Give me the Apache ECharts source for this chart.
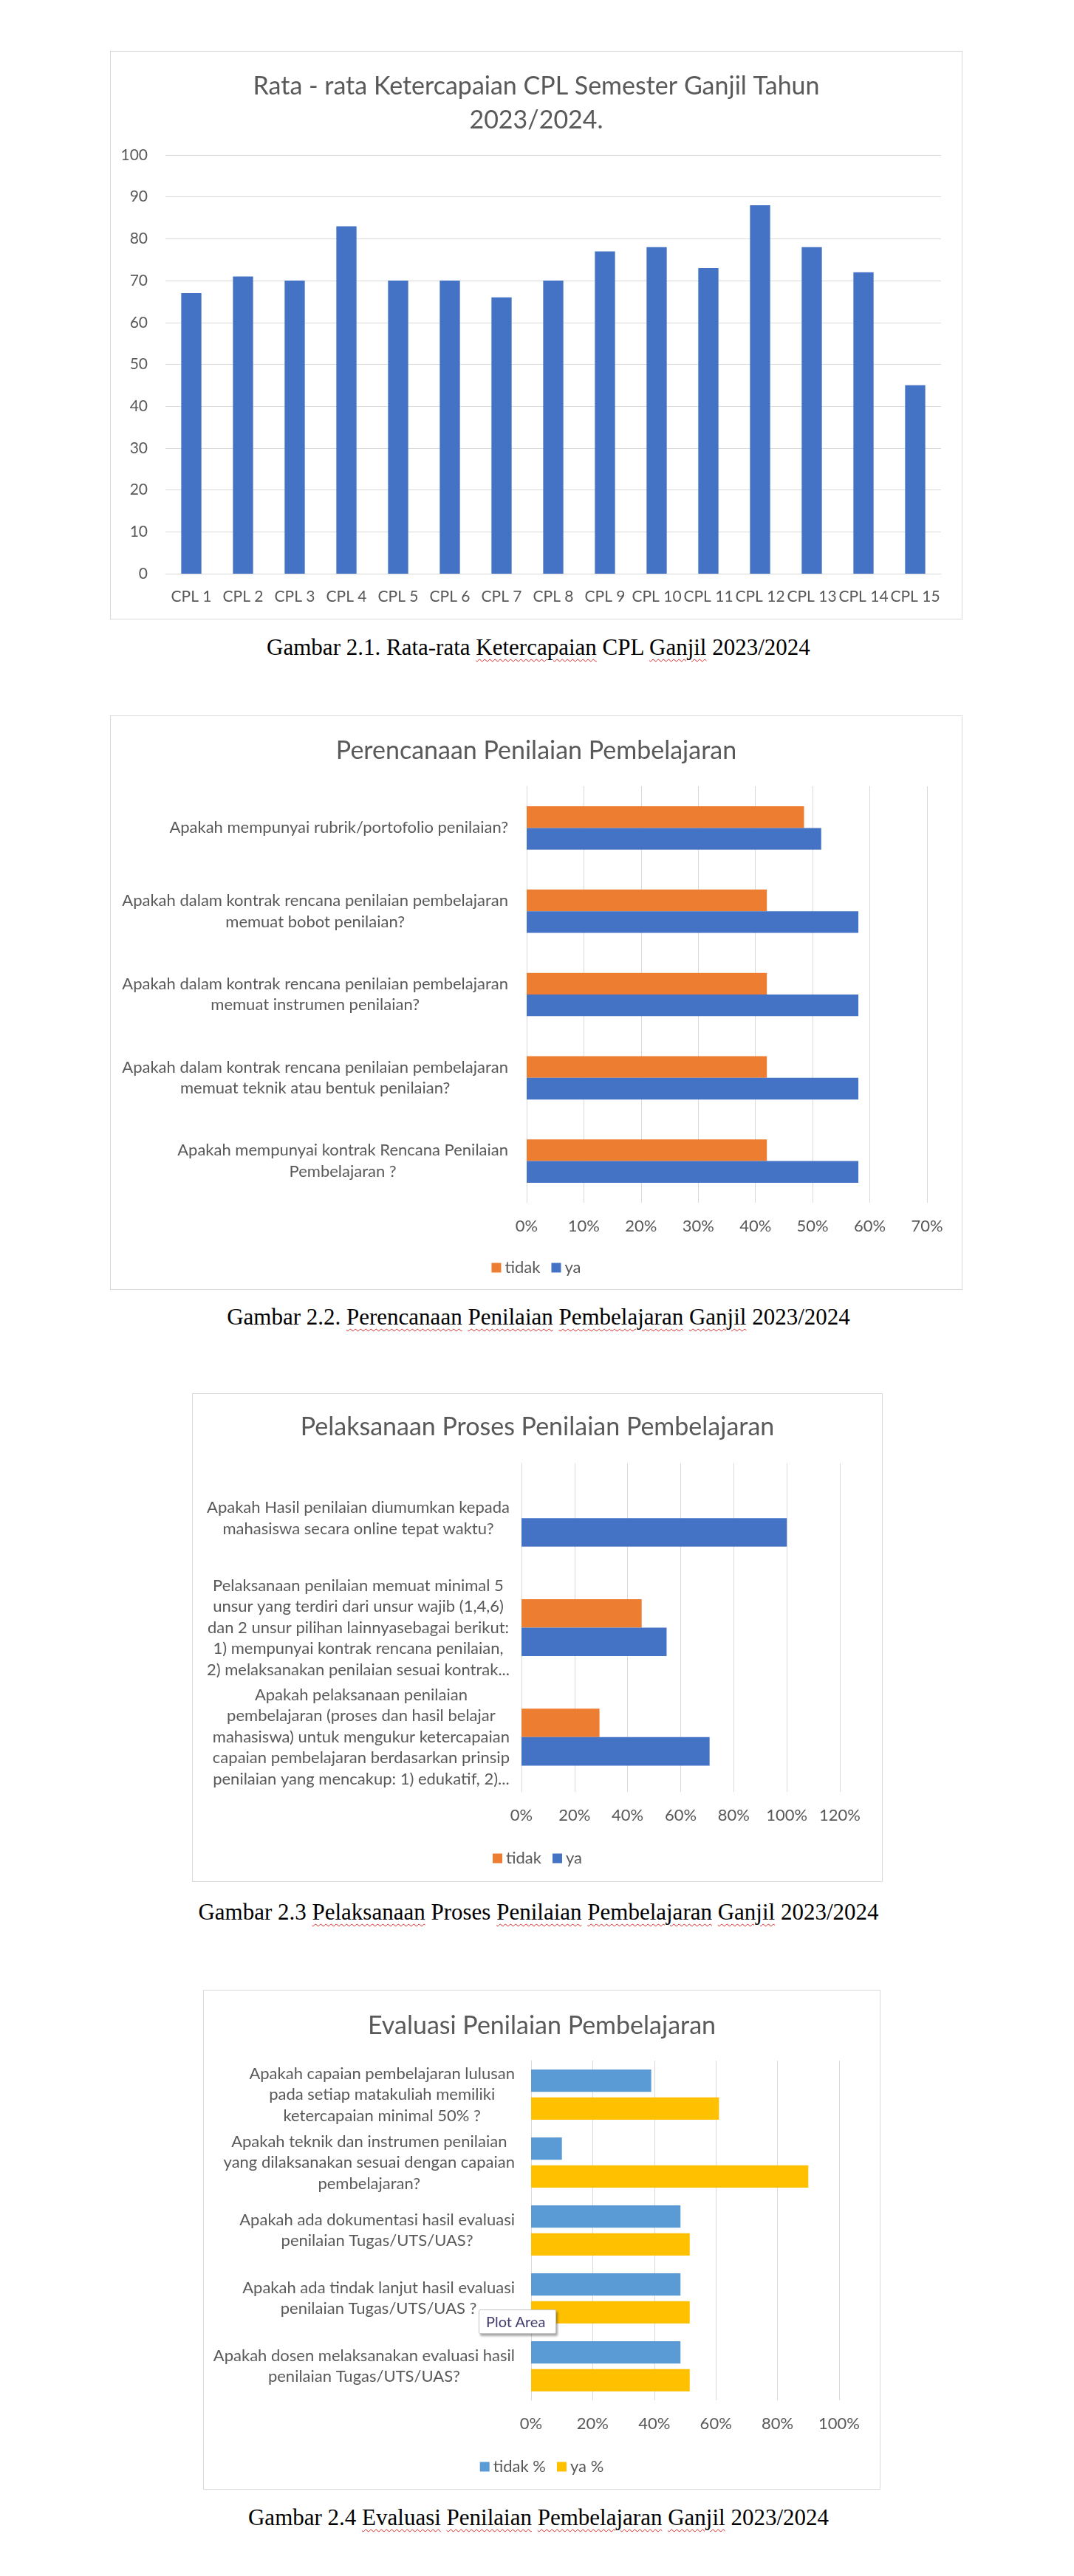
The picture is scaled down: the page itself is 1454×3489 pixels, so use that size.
<!DOCTYPE html>
<html>
<head>
<meta charset="utf-8">
<script src="https://cdn.jsdelivr.net/npm/echarts/dist/echarts.min.js"></script>
<style>
html,body{margin:0;padding:0;background:#fff;}
body{width:1454px;height:3489px;position:relative;overflow:hidden;}
.box{position:absolute;border:1px solid #d9d9d9;box-sizing:border-box;background:#fff;}
.cap{position:absolute;left:0;width:1458px;text-align:center;font-family:'Liberation Serif','Times New Roman',serif;font-size:31px;color:#000;line-height:40px;white-space:nowrap;}
.sp{text-decoration:underline wavy #e02020;text-decoration-thickness:1px;text-underline-offset:5px;}
.tip{position:absolute;left:648px;top:3128px;width:105px;height:33px;box-sizing:border-box;border:1px solid #c4c4c4;border-radius:2px;background:#fff;box-shadow:2px 3px 3px rgba(0,0,0,0.35);font-family:Lato,'Open Sans',sans-serif;font-size:20px;color:#403c6e;line-height:31px;padding-left:9px;white-space:nowrap;}
</style>
</head>
<body>
<div id="c1" class="box" style="left:149px;top:69px;width:1154px;height:770px;"></div>
<div class="cap" style="top:857px;">Gambar 2.1. Rata-rata <span class="sp">Ketercapaian</span> CPL <span class="sp">Ganjil</span> 2023/2024</div>

<div id="c2" class="box" style="left:149px;top:969px;width:1154px;height:778px;"></div>
<div class="cap" style="top:1764px;">Gambar 2.2. <span class="sp">Perencanaan</span> <span class="sp">Penilaian</span> <span class="sp">Pembelajaran</span> <span class="sp">Ganjil</span> 2023/2024</div>

<div id="c3" class="box" style="left:260px;top:1887px;width:935px;height:662px;"></div>
<div class="cap" style="top:2570px;">Gambar 2.3 <span class="sp">Pelaksanaan</span> Proses <span class="sp">Penilaian</span> <span class="sp">Pembelajaran</span> <span class="sp">Ganjil</span> 2023/2024</div>

<div id="c4" class="box" style="left:275px;top:2695px;width:917px;height:677px;"></div>
<div class="tip">Plot Area</div>
<div class="cap" style="top:3390px;">Gambar 2.4 <span class="sp">Evaluasi</span> <span class="sp">Penilaian</span> <span class="sp">Pembelajaran</span> <span class="sp">Ganjil</span> 2023/2024</div>

<script>
// ---------- DATA ----------
const cplCategories = ['CPL 1','CPL 2','CPL 3','CPL 4','CPL 5','CPL 6','CPL 7','CPL 8','CPL 9','CPL 10','CPL 11','CPL 12','CPL 13','CPL 14','CPL 15'];
const cplValues = [67, 71, 70, 83, 70, 70, 66, 70, 77, 78, 73, 88, 78, 72, 45];

const perencanaanCategories = [
  'Apakah mempunyai rubrik/portofolio penilaian?',
  'Apakah dalam kontrak rencana penilaian pembelajaran\nmemuat bobot penilaian?',
  'Apakah dalam kontrak rencana penilaian pembelajaran\nmemuat instrumen penilaian?',
  'Apakah dalam kontrak rencana penilaian pembelajaran\nmemuat teknik atau bentuk penilaian?',
  'Apakah mempunyai kontrak Rencana Penilaian\nPembelajaran ?'
];
const perencanaanTidak = [48.5, 42, 42, 42, 42];
const perencanaanYa = [51.5, 58, 58, 58, 58];

const pelaksanaanCategories = [
  'Apakah Hasil penilaian diumumkan kepada\nmahasiswa secara online tepat waktu?',
  'Pelaksanaan penilaian memuat minimal 5\nunsur yang terdiri dari unsur wajib (1,4,6)\ndan 2 unsur pilihan lainnyasebagai berikut:\n1) mempunyai kontrak rencana penilaian,\n2) melaksanakan penilaian sesuai kontrak...',
  'Apakah pelaksanaan penilaian\npembelajaran (proses dan hasil belajar\nmahasiswa) untuk mengukur ketercapaian\ncapaian pembelajaran berdasarkan prinsip\npenilaian yang mencakup: 1) edukatif, 2)...'
];
const pelaksanaanTidak = [0, 45.3, 29.4];
const pelaksanaanYa = [100, 54.7, 70.9];

const evaluasiCategories = [
  'Apakah capaian pembelajaran lulusan\npada setiap matakuliah memiliki\nketercapaian minimal 50% ?',
  'Apakah teknik dan instrumen penilaian\nyang dilaksanakan sesuai dengan capaian\npembelajaran?',
  'Apakah ada dokumentasi hasil evaluasi\npenilaian Tugas/UTS/UAS?',
  'Apakah ada tindak lanjut hasil evaluasi\npenilaian Tugas/UTS/UAS ?',
  'Apakah dosen melaksanakan evaluasi hasil\npenilaian Tugas/UTS/UAS?'
];
const evaluasiTidak = [39, 10, 48.5, 48.5, 48.5];
const evaluasiYa = [61, 90, 51.5, 51.5, 51.5];

// ---------- STYLE ----------
const F = "Lato, 'Open Sans', sans-serif";
const GREY = '#595959';
const GRID = '#d9d9d9';
const TITLE_STYLE = {fontFamily: F, fontSize: 34, fontWeight: 'normal', color: GREY, lineHeight: 46};

// Chart 1
echarts.init(document.getElementById('c1'), null, {renderer: 'canvas'}).setOption({
  animation: false,
  title: {text: 'Rata - rata Ketercapaian CPL Semester Ganjil Tahun\n2023/2024.', left: 'center', top: 19, textStyle: TITLE_STYLE},
  grid: {left: 74, right: 28, top: 140, bottom: 61, outerBoundsMode: 'none'},
  xAxis: {
    type: 'category', data: cplCategories,
    axisLine: {lineStyle: {color: GRID, width: 1}}, axisTick: {show: false},
    axisLabel: {interval: 0, color: GREY, fontFamily: F, fontSize: 21, margin: 21, lineHeight: 21}
  },
  yAxis: {
    type: 'value', min: 0, max: 100, interval: 10,
    axisLine: {show: false}, axisTick: {show: false},
    splitLine: {lineStyle: {color: GRID, width: 1}},
    axisLabel: {color: GREY, fontFamily: F, fontSize: 21, margin: 24}
  },
  series: [{type: 'bar', data: cplValues, barCategoryGap: '61%', itemStyle: {color: '#4472C4'}}]
});

function centerLines(v) {
  return v.split('\n').map(function (s) { return '{c|' + s + '}'; }).join('\n');
}

function hbar(id, cfg) {
  const chart = echarts.init(document.getElementById(id), null, {renderer: 'canvas'});
  chart.setOption({
    animation: false,
    title: {text: cfg.title, left: 'center', top: cfg.titleTop, textStyle: TITLE_STYLE},
    legend: {
      data: cfg.names, left: 'center', top: cfg.legendTop, icon: 'rect',
      itemWidth: 13, itemHeight: 13, itemGap: 15,
      textStyle: {fontFamily: F, fontSize: 22, color: GREY}
    },
    grid: Object.assign({outerBoundsMode: 'none'}, cfg.grid),
    xAxis: {
      type: 'value', min: 0, max: cfg.max, interval: cfg.interval,
      axisLine: {show: false}, axisTick: {show: false},
      splitLine: {lineStyle: {color: GRID, width: 1}},
      axisLabel: {formatter: '{value}%', color: GREY, fontFamily: F, fontSize: 22, margin: 21}
    },
    yAxis: {
      type: 'category', inverse: true, data: cfg.categories,
      axisLine: {lineStyle: {color: GRID, width: 1}}, axisTick: {show: false},
      axisLabel: {
        interval: 0, margin: cfg.labelMargin, formatter: centerLines,
        rich: {c: {align: 'center', fontFamily: F, fontSize: 22, lineHeight: 28.5, color: GREY}}
      }
    },
    series: [
      {name: cfg.names[0], type: 'bar', data: cfg.a, barGap: cfg.barGap, barCategoryGap: cfg.catGap, itemStyle: {color: cfg.colors[0]}},
      {name: cfg.names[1], type: 'bar', data: cfg.b, barGap: cfg.barGap, barCategoryGap: cfg.catGap, itemStyle: {color: cfg.colors[1]}}
    ]
  });
}

hbar('c2', {
  title: 'Perencanaan Penilaian Pembelajaran', titleTop: 19, legendTop: 731,
  names: ['tidak', 'ya'], colors: ['#ED7D31', '#4472C4'],
  grid: {left: 563, right: 47, top: 95, bottom: 117},
  max: 70, interval: 10, labelMargin: 25,
  categories: perencanaanCategories, a: perencanaanTidak, b: perencanaanYa,
  barGap: '0%', catGap: '48%'
});

hbar('c3', {
  title: 'Pelaksanaan Proses Penilaian Pembelajaran', titleTop: 17, legendTop: 613,
  names: ['tidak', 'ya'], colors: ['#ED7D31', '#4472C4'],
  grid: {left: 445, right: 57, top: 94, bottom: 121},
  max: 120, interval: 20, labelMargin: 16,
  categories: pelaksanaanCategories, a: pelaksanaanTidak, b: pelaksanaanYa,
  barGap: '0%', catGap: '48%'
});

hbar('c4', {
  title: 'Evaluasi Penilaian Pembelajaran', titleTop: 20, legendTop: 629,
  names: ['tidak %', 'ya %'], colors: ['#5B9BD5', '#FFC000'],
  grid: {left: 443, right: 55, top: 95, bottom: 120},
  max: 100, interval: 20, labelMargin: 22,
  categories: evaluasiCategories, a: evaluasiTidak, b: evaluasiYa,
  barGap: '25%', catGap: '26%'
});
</script>
</body>
</html>
